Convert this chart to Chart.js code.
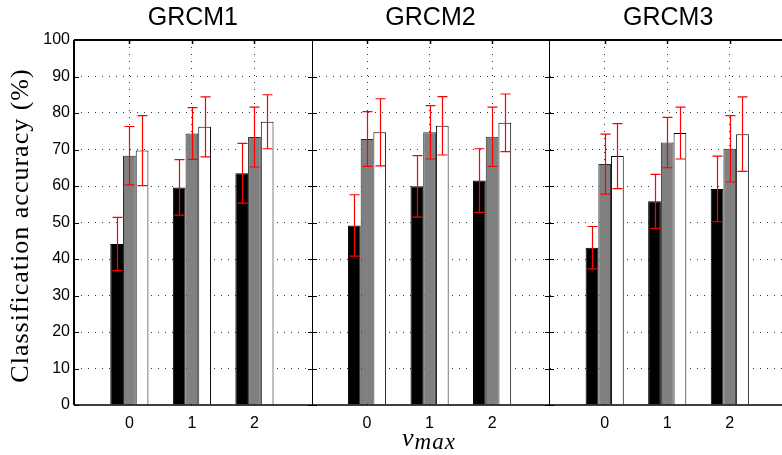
<!DOCTYPE html>
<html lang="en">
<head>
  <meta charset="UTF-8">
  <title>Classification accuracy per GRCM</title>
  <script src="https://cdn.jsdelivr.net/npm/chart.js"></script>
  <style>
    body {
      margin: 0;
      padding: 0;
      background: #fff;
      overflow: hidden;
    }
  </style>
</head>
<body>
  <canvas id="accuracyChart" width="790" height="455"></canvas>

  <script>
    // panels and v_max levels
    const models = ['GRCM1', 'GRCM2', 'GRCM3'];
    const vmax = ['0', '1', '2'];

    // mean accuracy (%) and std, ordered GRCM1 v0..v2, GRCM2 v0..v2, GRCM3 v0..v2
    const blackMean = [44.1, 59.6, 63.5, 49.2, 59.9, 61.5, 43.1, 55.8, 59.2];
    const blackStd  = [7.3, 7.6, 8.2, 8.4, 8.4, 8.7, 5.8, 7.4, 9.0];
    const grayMean  = [68.3, 74.4, 73.4, 72.9, 74.7, 73.5, 66.0, 71.9, 70.2];
    const grayStd   = [8.0, 7.1, 8.2, 7.5, 7.3, 8.1, 8.2, 6.9, 9.1];
    const whiteMean = [69.7, 76.2, 77.6, 74.7, 76.5, 77.3, 68.2, 74.5, 74.2];
    const whiteStd  = [9.6, 8.2, 7.4, 9.2, 8.0, 7.9, 8.9, 7.1, 10.2];

    const yTicks = [0, 10, 20, 30, 40, 50, 60, 70, 80, 90, 100];

    // each panel spans PANEL x-units, starting XMIN before its first group
    const PANEL = 3.8;
    const XMIN = -0.885;

    const xs = models.flatMap((m, p) => vmax.map((v, c) => p * PANEL + c));
    const pts = arr => arr.map((y, i) => ({ x: xs[i], y: y }));

    const errorSets = [
      { mean: blackMean, std: blackStd },
      { mean: grayMean, std: grayStd },
      { mean: whiteMean, std: whiteStd }
    ];

    const errorBars = {
      id: 'errorBars',
      afterDatasetsDraw(chart) {
        const ctx = chart.ctx;
        const y = chart.scales.y;
        ctx.save();
        ctx.strokeStyle = '#ff0000';
        ctx.lineWidth = 1.2;
        errorSets.forEach((set, i) => {
          chart.getDatasetMeta(i).data.forEach((bar, j) => {
            const x = Math.round(bar.x) + 0.5;
            const hi = y.getPixelForValue(set.mean[j] + set.std[j]);
            const lo = y.getPixelForValue(set.mean[j] - set.std[j]);
            ctx.beginPath();
            ctx.moveTo(x, hi); ctx.lineTo(x, lo);
            ctx.moveTo(x - 5, hi); ctx.lineTo(x + 5, hi);
            ctx.moveTo(x - 5, lo); ctx.lineTo(x + 5, lo);
            ctx.stroke();
          });
        });
        ctx.restore();
      }
    };

    // axes boxes, tick marks, panel titles and axis titles
    const frame = {
      id: 'frame',
      afterDraw(chart) {
        const ctx = chart.ctx;
        const { left, right, top, bottom } = chart.chartArea;
        const x = chart.scales.x;
        const y = chart.scales.y;
        ctx.save();
        ctx.strokeStyle = '#000';
        ctx.fillStyle = '#000';

        const edges = [0, 1, 2, 3].map(p => Math.round(x.getPixelForValue(XMIN + p * PANEL)));

        // top and bottom lines
        ctx.lineWidth = 2;
        ctx.beginPath();
        ctx.moveTo(left, top); ctx.lineTo(right, top);
        ctx.stroke();
        ctx.lineWidth = 1.6;
        ctx.beginPath();
        ctx.moveTo(left, bottom); ctx.lineTo(right, bottom);
        ctx.stroke();

        // vertical box edges
        edges.forEach((ex, k) => {
          ctx.lineWidth = k === 0 ? 2 : 1;
          ctx.beginPath();
          ctx.moveTo(ex + (k === 0 ? 0 : 0.5), top);
          ctx.lineTo(ex + (k === 0 ? 0 : 0.5), bottom);
          ctx.stroke();
        });

        // y tick marks on both sides of every box edge
        ctx.lineWidth = 1;
        yTicks.forEach(t => {
          const ty = Math.round(y.getPixelForValue(t)) + 0.5;
          edges.forEach((ex, k) => {
            ctx.beginPath();
            if (k < 3) { ctx.moveTo(ex, ty); ctx.lineTo(ex + 5, ty); }
            if (k > 0) { ctx.moveTo(ex - 4, ty); ctx.lineTo(ex, ty); }
            ctx.stroke();
          });
        });

        // x tick marks along the top
        ctx.lineWidth = 1.5;
        xs.forEach(v => {
          const tx = Math.round(x.getPixelForValue(v)) + 0.5;
          ctx.beginPath();
          ctx.moveTo(tx, top); ctx.lineTo(tx, top + 4);
          ctx.stroke();
        });

        // panel titles
        ctx.font = '25px "Liberation Sans", Arial, sans-serif';
        ctx.textAlign = 'center';
        ctx.textBaseline = 'alphabetic';
        models.forEach((m, p) => {
          const cx = x.getPixelForValue(XMIN + (p + 0.5) * PANEL);
          ctx.fillText(m, cx, 25);
        });

        // y axis title
        ctx.save();
        ctx.translate(21, (top + bottom) / 2 + 3);
        ctx.rotate(-Math.PI / 2);
        ctx.font = '26px "Liberation Serif", "Times New Roman", serif';
        ctx.letterSpacing = '1px';
        ctx.textAlign = 'center';
        ctx.textBaseline = 'middle';
        ctx.fillText('Classification accuracy (%)', 0, 0);
        ctx.restore();

        // x axis title: v_max
        const mid = (left + right) / 2 - 2;
        ctx.textAlign = 'left';
        ctx.font = 'italic 26px "Liberation Serif", serif';
        const wv = ctx.measureText('v').width;
        ctx.font = 'italic 23px "Liberation Serif", serif';
        ctx.letterSpacing = '1px';
        const wm = ctx.measureText('max').width;
        const x0 = mid - (wv + wm) / 2;
        ctx.fillText('max', x0 + wv + 1, 449);
        ctx.letterSpacing = '0px';
        ctx.font = 'italic 26px "Liberation Serif", serif';
        ctx.fillText('v', x0, 446);

        ctx.restore();
      }
    };

    new Chart(document.getElementById('accuracyChart'), {
      type: 'bar',
      data: {
        datasets: [
          {
            data: pts(blackMean),
            backgroundColor: '#000000',
            borderColor: '#000000',
            borderWidth: 1
          },
          {
            data: pts(grayMean),
            backgroundColor: '#808080',
            borderColor: '#2a2a2a',
            borderWidth: 1
          },
          {
            data: pts(whiteMean),
            backgroundColor: '#ffffff',
            borderColor: '#000000',
            borderWidth: 1
          }
        ]
      },
      options: {
        responsive: false,
        animation: false,
        categoryPercentage: 0.61,
        barPercentage: 1.0,
        layout: { padding: { top: 40, right: 3, left: 0, bottom: 0 } },
        plugins: {
          legend: { display: false },
          tooltip: { enabled: false }
        },
        scales: {
          x: {
            type: 'linear',
            min: XMIN,
            max: XMIN + 3 * PANEL,
            offset: false,
            afterBuildTicks: s => { s.ticks = xs.map(v => ({ value: v })); },
            afterFit: s => { s.height = 50; },
            grid: { offset: false, drawTicks: false, color: '#333', lineWidth: 1 },
            border: { display: false, dash: [1, 6] },
            ticks: {
              autoSkip: false,
              maxRotation: 0,
              padding: 9,
              color: '#000',
              font: { family: '"Liberation Sans", Arial, sans-serif', size: 16 },
              callback: value => {
                const i = xs.findIndex(v => Math.abs(v - value) < 1e-6);
                return i < 0 ? '' : vmax[i % vmax.length];
              }
            }
          },
          y: {
            min: 0,
            max: 100,
            afterBuildTicks: s => { s.ticks = yTicks.map(v => ({ value: v })); },
            afterFit: s => { s.width = 74; },
            grid: {
              drawTicks: false,
              lineWidth: 1,
              color: c => (c.tick && (c.tick.value === 0 || c.tick.value === 100)) ? 'rgba(0,0,0,0)' : '#333'
            },
            border: { display: false, dash: [1, 6] },
            ticks: {
              padding: 4,
              color: '#000',
              font: { family: '"Liberation Sans", Arial, sans-serif', size: 16 }
            }
          }
        }
      },
      plugins: [errorBars, frame]
    });
  </script>
</body>
</html>
